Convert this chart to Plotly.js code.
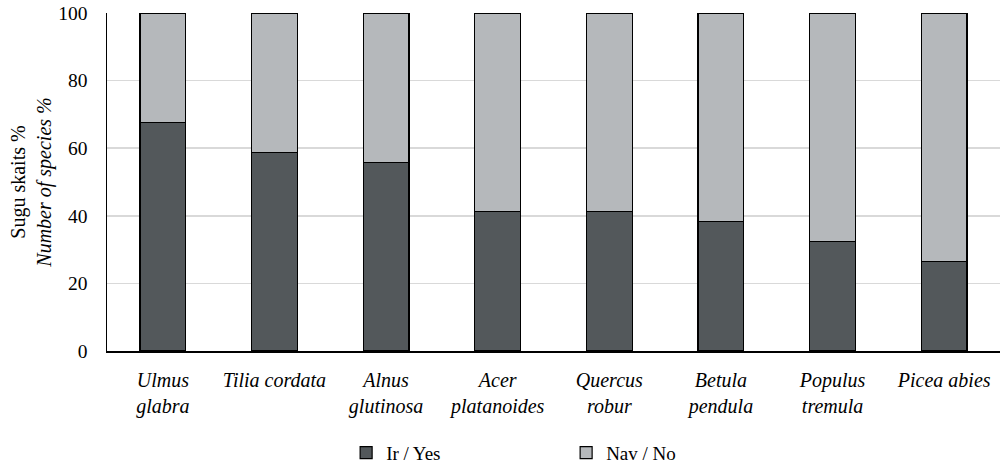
<!DOCTYPE html>
<html>
<head>
<meta charset="utf-8">
<script src="https://cdn.plot.ly/plotly-3.0.1.min.js"></script>
<style>html,body{margin:0;padding:0;background:#fff}#chart{width:1002px;height:464px}</style>
</head>
<body>
<div id="chart"></div>
<script>
var categories = ["Ulmus<br>glabra", "Tilia cordata", "Alnus<br>glutinosa", "Acer<br>platanoides", "Quercus<br>robur", "Betula<br>pendula", "Populus<br>tremula", "Picea abies"];
var yesValues = [67.6, 58.8, 55.8, 41.2, 41.2, 38.2, 32.4, 26.5];
var noValues = [32.4, 41.2, 44.2, 58.8, 58.8, 61.8, 67.6, 73.5];
var seriesNames = ["Ir / Yes", "Nav / No"];
var tickVals = [0, 20, 40, 60, 80, 100];

var FONT = "Liberation Serif";

var traces = [
  {type: "bar", name: seriesNames[0], x: categories, y: yesValues,
   marker: {color: "#53585b", line: {color: "#000", width: 1.2}}, width: 0.41},
  {type: "bar", name: seriesNames[1], x: categories, y: noValues,
   marker: {color: "#b5b8bb", line: {color: "#000", width: 1.2}}, width: 0.41}
];

var layout = {
  width: 1002, height: 464,
  barmode: "stack",
  margin: {l: 107, r: 2, t: 13, b: 113, autoexpand: false},
  paper_bgcolor: "#fff", plot_bgcolor: "#fff",
  font: {family: FONT, size: 19, color: "#000"},
  showlegend: true,
  legend: {orientation: "h", x: 0.565, xanchor: "center", xref: "container",
           y: 0.024, yanchor: "middle", yref: "container",
           font: {family: FONT, size: 19}, entrywidth: 175, traceorder: "normal"},
  xaxis: {
    tickfont: {family: FONT, size: 20, style: "italic"},
    showline: true, linecolor: "#000", linewidth: 1.5,
    ticks: "", showgrid: false, ticklabelstandoff: 10
  },
  yaxis: {
    range: [0, 100], tickvals: tickVals, ticktext: tickVals.map(String),
    showline: true, linecolor: "#000", linewidth: 1.5,
    showgrid: true, gridcolor: "#d9d9d9", gridwidth: 1.5,
    zeroline: false, ticks: "", ticklabelstandoff: 14,
    tickfont: {family: FONT, size: 19.5},
    title: {text: "Sugu skaits %<br><i>Number of species %</i>", font: {family: FONT, size: 20}, standoff: 1}
  }
};

Plotly.newPlot("chart", traces, layout, {displayModeBar: false, staticPlot: true});
</script>
</body>
</html>
